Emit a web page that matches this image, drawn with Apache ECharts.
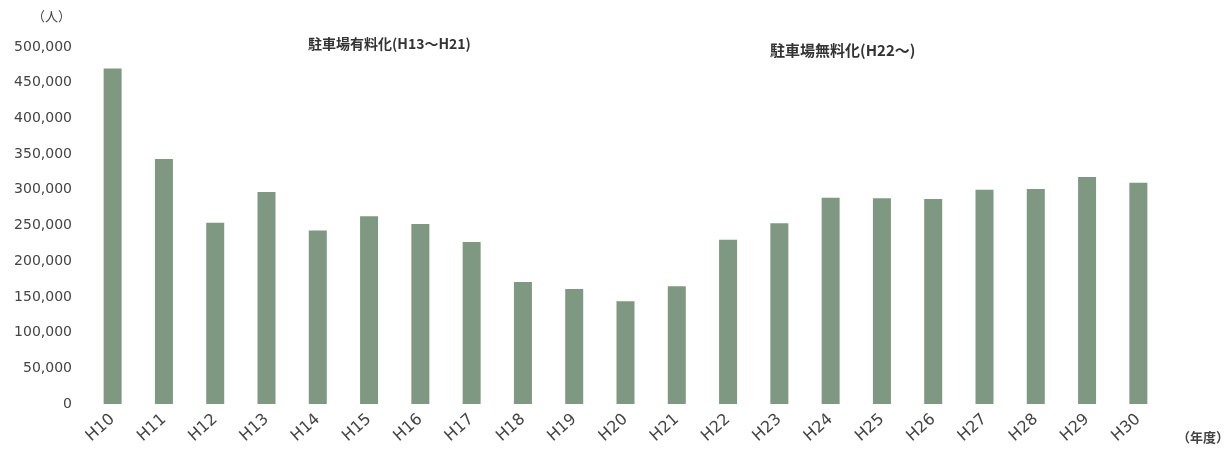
<!DOCTYPE html>
<html>
<head>
<meta charset="utf-8">
<script src="https://cdn.jsdelivr.net/npm/echarts@6/dist/echarts.min.js"></script>
<style>
html,body{margin:0;padding:0;background:#fff;}
#c{width:1227px;height:464px;}
</style>
</head>
<body>
<div id="c"></div>
<script>
const categories = ['H10','H11','H12','H13','H14','H15','H16','H17','H18','H19','H20','H21','H22','H23','H24','H25','H26','H27','H28','H29','H30'];
const visitors = [470000,343000,254000,297000,243000,263000,252000,227000,171000,161000,144000,165000,230000,253000,289000,288000,287000,300000,301000,318000,310000];
const yTicks = [0,50000,100000,150000,200000,250000,300000,350000,400000,450000,500000];
const yUnit = '（人）';
const xUnit = '（年度）';
const note1 = '駐車場有料化(H13～H21)';
const note2 = '駐車場無料化(H22～)';

const chart = echarts.init(document.getElementById('c'));
const font = '"DejaVu Sans", "Noto Sans", sans-serif';
const cjk = '"Noto Sans CJK JP", "Noto Sans", sans-serif';
chart.setOption({
  animation: false,
  backgroundColor: '#ffffff',
  grid: {left: 87, right: 63, top: 47, bottom: 60},
  xAxis: {
    type: 'category',
    data: categories,
    axisLine: {show: false},
    axisTick: {show: false},
    axisLabel: {rotate: 42, margin: 13, fontSize: 16, color: '#444', fontFamily: font}
  },
  yAxis: {
    type: 'value',
    min: yTicks[0],
    max: yTicks[yTicks.length - 1],
    interval: yTicks[1] - yTicks[0],
    axisLine: {show: false},
    axisTick: {show: false},
    splitLine: {show: false},
    axisLabel: {
      margin: 15, fontSize: 14, color: '#444', fontFamily: font,
      formatter: v => v.toLocaleString('en-US')
    }
  },
  series: [{
    type: 'bar',
    data: visitors,
    barWidth: 18,
    itemStyle: {color: '#7f9881'}
  }],
  graphic: [
    {type: 'text', left: 32, top: 10, style: {text: yUnit, fontSize: 13, fill: '#444', fontFamily: cjk}},
    {type: 'text', left: 1177, top: 431, style: {text: xUnit, fontSize: 13, fontWeight: 'bold', fill: '#444', fontFamily: cjk}},
    {type: 'text', left: 308, top: 37, style: {text: note1, fontSize: 14, fontWeight: 'bold', fill: '#333', fontFamily: cjk}},
    {type: 'text', left: 770, top: 43, style: {text: note2, fontSize: 15, fontWeight: 'bold', fill: '#333', fontFamily: cjk}}
  ]
});
</script>
</body>
</html>
